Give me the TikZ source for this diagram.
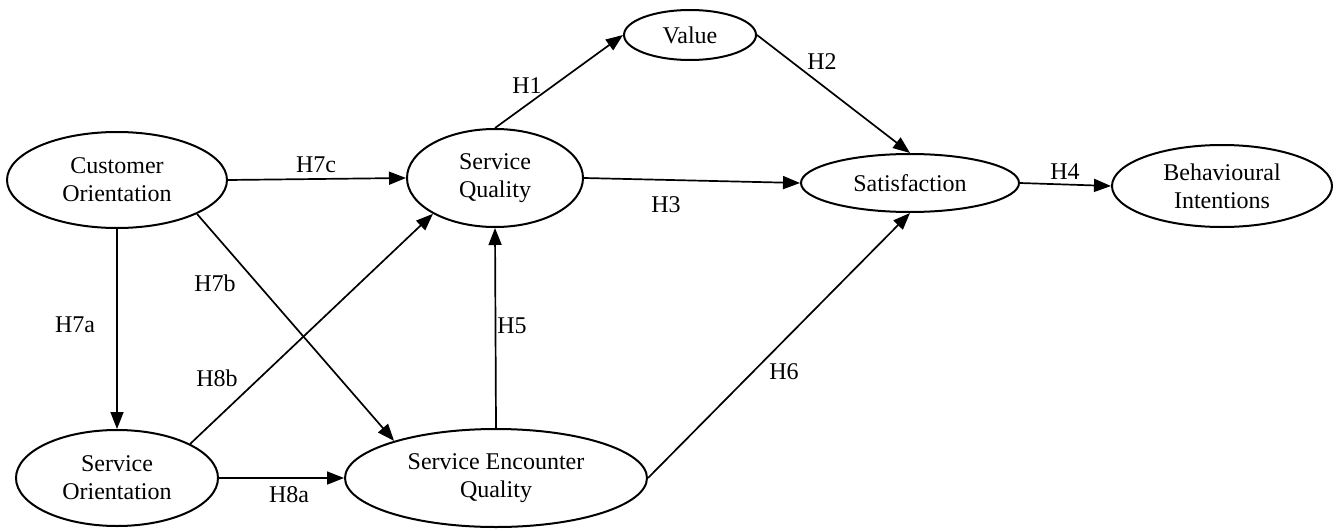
\documentclass[tikz,border=0pt]{standalone}
\usepackage{fontspec}
\setmainfont{Liberation Serif}
\usetikzlibrary{shapes.geometric,arrows.meta}
\begin{document}
\begin{tikzpicture}[x=1pt,y=-1pt,
  construct/.style={ellipse,draw,line width=2pt,inner sep=0pt,align=center,
    font=\fontsize{24}{28}\selectfont},
  hyp/.style={font=\fontsize{24}{28}\selectfont,inner sep=0pt},
  link/.style={line width=1.7pt,-{Triangle[length=17pt,width=13pt]}}]
\useasboundingbox (0,0) rectangle (1341,530);
\node[construct,minimum width=220pt,minimum height=96pt] (co) at (117,180) {Customer\\Orientation};
\node[construct,minimum width=202pt,minimum height=96pt] (so) at (117,478) {Service\\Orientation};
\node[construct,minimum width=176pt,minimum height=98pt] (sq) at (495,178) {Service\\Quality};
\node[construct,minimum width=302pt,minimum height=98pt] (seq) at (496,478) {Service Encounter\\Quality};
\node[construct,minimum width=132pt,minimum height=50pt] (val) at (690,35) {Value};
\node[construct,minimum width=218pt,minimum height=58pt] (sat) at (910,183) {Satisfaction};
\node[construct,minimum width=220pt,minimum height=82pt] (bi) at (1222,186) {Behavioural\\Intentions};

\draw[link] (co.east) -- (sq.west);
\draw[link] (co.south) -- (so.north);
\draw[link] (co.-23.8) -- (seq.160.3);
\draw[link] (so.25.6) -- (sq.-150.3);
\draw[link] (so.east) -- (seq.west);
\draw[link] (seq.north) -- (sq.south);
\draw[link] (sq.north) -- (val.west);
\draw[link] (val.east) -- (sat.north);
\draw[link] (sq.east) -- (sat.west);
\draw[link] (seq.east) -- (sat.south);
\draw[link] (sat.east) -- (bi.west);

\node[hyp] (h1) at (527,86) {H1};
\node[hyp] (h2) at (822,62) {H2};
\node[hyp] (h3) at (666,205) {H3};
\node[hyp] (h4) at (1065,172) {H4};
\node[hyp] (h5) at (512,326) {H5};
\node[hyp] (h6) at (784,372) {H6};
\node[hyp] (h7a) at (75,325) {H7a};
\node[hyp] (h7b) at (215,283) {H7b};
\node[hyp] (h7c) at (316,165) {H7c};
\node[hyp] (h8a) at (289,495) {H8a};
\node[hyp] (h8b) at (217,378) {H8b};
\end{tikzpicture}
\end{document}
